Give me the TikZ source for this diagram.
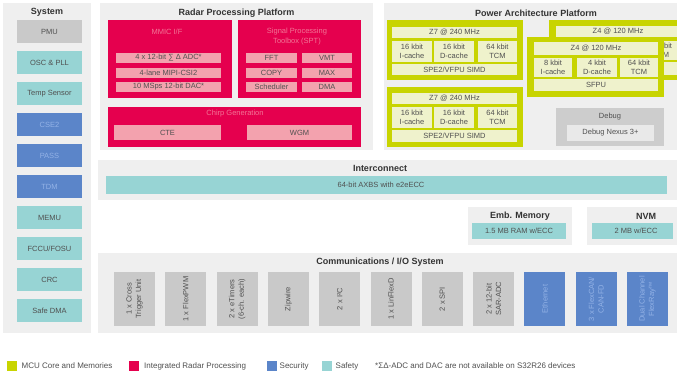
\documentclass[tikz,border=0pt]{standalone}
\usepackage{fontspec}
\setmainfont{Liberation Sans}
\definecolor{panelgrey}{HTML}{EFEFEF}
\definecolor{boxgrey}{HTML}{C9C9C9}
\definecolor{safeteal}{HTML}{97D4D4}
\definecolor{secblue}{HTML}{5B85C9}
\definecolor{bluetxt}{HTML}{93B2E6}
\definecolor{radred}{HTML}{E5004E}
\definecolor{radpink}{HTML}{F3A2AE}
\definecolor{redtxt}{HTML}{F27596}
\definecolor{mculime}{HTML}{C8D400}
\definecolor{limelight}{HTML}{EFF2CC}
\definecolor{dbggrey}{HTML}{CDCDCD}
\definecolor{dbglight}{HTML}{E9E9E9}
\definecolor{txtgrey}{HTML}{505050}
\definecolor{ttlgrey}{HTML}{333333}
\newcommand\blk[7]{\node[#2, minimum width={(#5-#3)*1pt}, minimum height={(#6-#4)*1pt}] (#1) at ({(#3+#5)/2},{(#4+#6)/2}) {#7};}
\newcommand\vblk[7]{\node[#2, rotate=90, minimum width={(#6-#4)*1pt}, minimum height={(#5-#3)*1pt}] (#1) at ({(#3+#5)/2},{(#4+#6)/2}) {#7};}
\tikzset{
  base/.style={inner sep=0pt, outer sep=0pt, draw=none, align=center, text=txtgrey, font=\fontsize{7.5}{9.5}\selectfont},
  panel/.style={base, fill=panelgrey},
  greybox/.style={base, fill=boxgrey},
  tealbox/.style={base, fill=safeteal},
  bluebox/.style={base, fill=secblue, text=bluetxt},
  redbox/.style={base, fill=radred},
  pinkbox/.style={base, fill=radpink},
  limebox/.style={base, fill=mculime},
  limecell/.style={base, fill=limelight},
  dbgouter/.style={base, fill=dbggrey},
  dbginner/.style={base, fill=dbglight},
  ttl/.style={inner sep=0pt, font=\bfseries\fontsize{9}{10}\selectfont, text=ttlgrey},
  redttl/.style={inner sep=0pt, align=center, font=\fontsize{7.5}{10}\selectfont, text=redtxt},
  lbl/.style={inner sep=0pt, font=\fontsize{7.5}{9.5}\selectfont, text=txtgrey},
  lgtxt/.style={inner sep=0pt, anchor=west, font=\fontsize{8}{9}\selectfont, text=txtgrey},
}
\begin{document}
\begin{tikzpicture}[x=1pt,y=-1pt]
\useasboundingbox (0,0) rectangle (677,373);
\clip (0,0) rectangle (677,373);
\fill[white] (0,0) rectangle (677,373);

% ---------------- System ----------------
\blk{syspanel}{panel}{3}{3}{91}{333}{}
\node[ttl] (systitle) at (47,12) {System};
\blk{pmu}{greybox}{17}{20}{82}{43}{PMU}
\blk{osc}{tealbox}{17}{51}{82}{74}{OSC \& PLL}
\blk{temp}{tealbox}{17}{82}{82}{105}{Temp Sensor}
\blk{cse}{bluebox}{17}{113}{82}{136}{CSE2}
\blk{pass}{bluebox}{17}{144}{82}{167}{PASS}
\blk{tdm}{bluebox}{17}{175}{82}{198}{TDM}
\blk{memu}{tealbox}{17}{206}{82}{229}{MEMU}
\blk{fccu}{tealbox}{17}{237}{82}{260}{FCCU/FOSU}
\blk{crc}{tealbox}{17}{268}{82}{291}{CRC}
\blk{sdma}{tealbox}{17}{299}{82}{322}{Safe DMA}

% ---------------- Radar ----------------
\blk{radarpanel}{panel}{100}{3}{373}{150}{}
\node[ttl] (radartitle) at (236.5,13) {Radar Processing Platform};
\blk{mmic}{redbox}{108}{20}{232}{98}{}
\node[redttl] (mmictitle) at (167,32) {MMIC I/F};
\blk{adc}{pinkbox}{116}{53}{221}{63}{4 x 12-bit ∑ Δ ADC*}
\blk{mipi}{pinkbox}{116}{68}{221}{78}{4-lane MIPI-CSI2}
\blk{dac}{pinkbox}{116}{82}{221}{92}{10 MSps 12-bit DAC*}
\blk{spt}{redbox}{238}{20}{361}{98}{}
\node[redttl] (spttitle) at (297,37) {Signal Processing\\Toolbox (SPT)};
\blk{fft}{pinkbox}{246}{53}{297}{63}{FFT}
\blk{vmt}{pinkbox}{302}{53}{352}{63}{VMT}
\blk{copy}{pinkbox}{246}{68}{297}{78}{COPY}
\blk{max}{pinkbox}{302}{68}{352}{78}{MAX}
\blk{sched}{pinkbox}{246}{82}{297}{92}{Scheduler}
\blk{dma}{pinkbox}{302}{82}{352}{92}{DMA}
\blk{chirp}{redbox}{108}{107}{361}{147}{}
\node[redttl] (chirptitle) at (235,113.5) {Chirp Generation};
\blk{cte}{pinkbox}{114}{125}{221}{140}{CTE}
\blk{wgm}{pinkbox}{247}{125}{352}{140}{WGM}

% ---------------- Power Architecture ----------------
\blk{powpanel}{panel}{384}{3}{690}{150}{}
\node[ttl] (powtitle) at (536,13) {Power Architecture Platform};
% Z7 core 1
\blk{za}{limebox}{387}{20}{523}{80}{}
\blk{zabar}{limecell}{392}{27}{517}{38}{Z7 @ 240 MHz}
\blk{zai}{limecell}{392}{41}{432}{62}{16 kbit\\I-cache}
\blk{zad}{limecell}{434}{41}{474}{62}{16 kbit\\D-cache}
\blk{zat}{limecell}{478}{41}{517}{62}{64 kbit\\TCM}
\blk{zas}{limecell}{392}{64}{517}{75}{SPE2/VFPU SIMD}
% Z7 core 2
\blk{zb}{limebox}{387}{87}{523}{147}{}
\blk{zbbar}{limecell}{392}{93}{517}{104}{Z7 @ 240 MHz}
\blk{zbi}{limecell}{392}{107}{432}{128}{16 kbit\\I-cache}
\blk{zbd}{limecell}{434}{107}{474}{128}{16 kbit\\D-cache}
\blk{zbt}{limecell}{478}{107}{517}{128}{64 kbit\\TCM}
\blk{zbs}{limecell}{392}{130}{517}{142}{SPE2/VFPU SIMD}
% Z4 core (back, mostly hidden)
\blk{zc}{limebox}{549}{20}{686}{80}{}
\blk{zcbar}{limecell}{556}{26}{680}{37}{Z4 @ 120 MHz}
\blk{zci}{limecell}{556}{41}{594}{60}{}
\blk{zcd}{limecell}{599}{41}{639}{60}{}
\blk{zct}{limecell}{642}{41}{680}{60}{64 kbit\\TCM}
\blk{zcs}{limecell}{556}{62}{680}{75}{}
% Z4 core (front)
\blk{zd}{limebox}{527}{37}{664}{97}{}
\blk{zdbar}{limecell}{534}{42}{658}{55}{Z4 @ 120 MHz}
\blk{zdi}{limecell}{534}{58}{572}{77}{8 kbit\\I-cache}
\blk{zdd}{limecell}{577}{58}{617}{77}{4 kbit\\D-cache}
\blk{zdt}{limecell}{620}{58}{658}{77}{64 kbit\\TCM}
\blk{zds}{limecell}{534}{79}{658}{91}{SFPU}
% Debug
\blk{dbg}{dbgouter}{556}{108}{664}{146}{}
\node[lbl] (dbgtitle) at (610,117) {Debug};
\blk{nexus}{dbginner}{567}{125}{654}{141}{Debug Nexus 3+}

% ---------------- Interconnect ----------------
\blk{icpanel}{panel}{98}{160}{690}{200}{}
\node[ttl] (ictitle) at (380,168.5) {Interconnect};
\blk{axbs}{tealbox}{106}{176}{667}{194}{}
\node[lbl] (axbst) at (381,185) {64-bit AXBS with e2eECC};

% ---------------- Memories ----------------
\blk{mempanel}{panel}{468}{207}{572}{245}{}
\node[ttl] (memtitle) at (520,216) {Emb. Memory};
\blk{ram}{tealbox}{472}{223}{566}{239}{1.5 MB RAM w/ECC}
\blk{nvmpanel}{panel}{587}{207}{700}{245}{}
\node[ttl] (nvmtitle) at (646,216) {NVM};
\blk{flash}{tealbox}{592}{223}{673}{239}{}
\node[lbl] (flasht) at (636,231) {2 MB w/ECC};

% ---------------- Communications ----------------
\blk{companel}{panel}{98}{253}{690}{333}{}
\node[ttl] (comtitle) at (380,262) {Communications / I/O System};
\vblk{ctu}{greybox}{114}{272}{155}{326}{1 x Cross\\Trigger Unit}
\vblk{pwm}{greybox}{165.3}{272}{206.3}{326}{1 x FlexPWM}
\vblk{etim}{greybox}{216.6}{272}{257.6}{326}{2 x eTimers\\(6-ch. each)}
\vblk{zip}{greybox}{267.9}{272}{308.9}{326}{Zipwire}
\vblk{iic}{greybox}{319.2}{272}{360.2}{326}{2 x I²C}
\vblk{lin}{greybox}{370.5}{272}{411.5}{326}{1 x LinFlexD}
\vblk{spi}{greybox}{421.8}{272}{462.8}{326}{2 x SPI}
\vblk{sar}{greybox}{473.1}{272}{514.1}{326}{2 x 12-bit\\SAR-ADC}
\vblk{eth}{bluebox}{524.4}{272}{565.4}{326}{Ethernet}
\vblk{can}{bluebox}{575.7}{272}{616.7}{326}{3 x FlexCAN/\\CAN-FD}
\vblk{flex}{bluebox}{627}{272}{668}{326}{Dual Channel\\FlexRay™}

% ---------------- Legend ----------------
\blk{lgmcu}{limebox}{7}{361}{17}{371}{}
\node[lgtxt] (lgmcut) at (21.5,366) {MCU Core and Memories};
\blk{lgrad}{redbox}{129}{361}{139}{371}{}
\node[lgtxt] (lgradt) at (144,366) {Integrated Radar Processing};
\blk{lgsec}{bluebox}{267}{361}{277}{371}{}
\node[lgtxt] (lgsect) at (279.5,366) {Security};
\blk{lgsaf}{tealbox}{322}{361}{332}{371}{}
\node[lgtxt] (lgsaft) at (335.5,366) {Safety};
\node[lgtxt] (note) at (375,366) {*ΣΔ-ADC and DAC are not available on S32R26 devices};
\end{tikzpicture}
\end{document}
